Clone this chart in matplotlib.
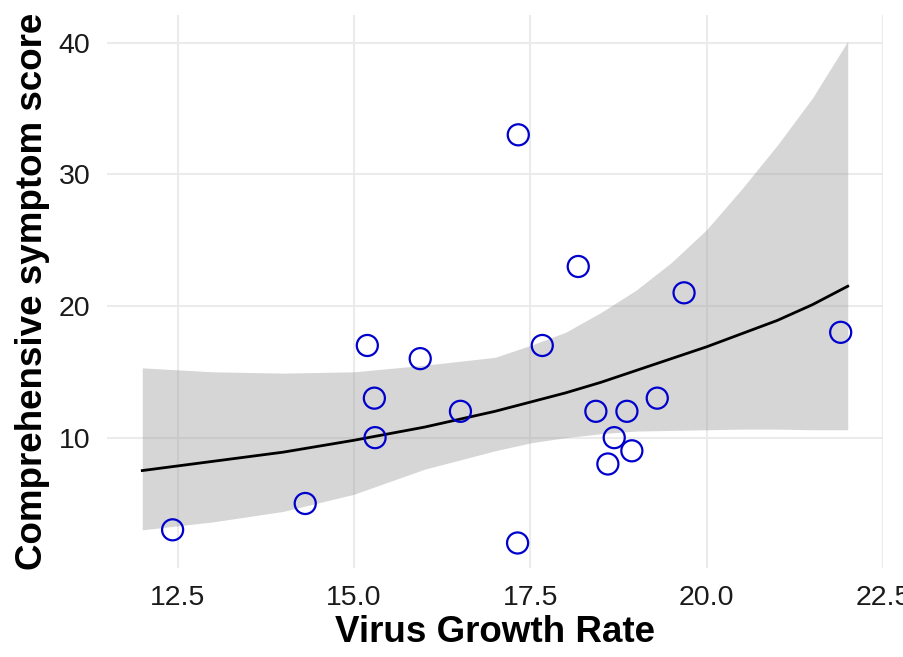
import matplotlib
matplotlib.use("Agg")
import matplotlib.pyplot as plt

# observed points
growth_rate = [12.43, 14.31, 15.19, 15.29, 15.30, 15.94, 16.51, 17.32, 17.33, 17.67,
               18.18, 18.43, 18.87, 18.69, 18.60, 18.94, 19.30, 19.68, 21.90]
symptom_score = [3, 5, 17, 13, 10, 16, 12, 2, 33, 17,
                 23, 12, 12, 10, 8, 9, 13, 21, 18]

# fitted curve and confidence band
fit_x = [12, 13, 14, 15, 16, 17, 17.5, 18, 18.5, 19, 19.5, 20, 20.5, 21, 21.5, 22]
fit_y = [7.5, 8.2, 8.9, 9.8, 10.8, 12.0, 12.7, 13.4, 14.2, 15.1, 16.0, 16.9, 17.9, 18.9, 20.1, 21.5]
fit_upper = [15.3, 15.0, 14.9, 15.0, 15.5, 16.1, 17.0, 18.0, 19.5, 21.2, 23.3, 25.8, 28.9, 32.2, 35.8, 40.1]
fit_lower = [3.0, 3.6, 4.4, 5.7, 7.6, 9.0, 9.6, 10.0, 10.3, 10.5, 10.55, 10.6, 10.65, 10.65, 10.6, 10.6]

x_ticks = [12.5, 15.0, 17.5, 20.0, 22.5]
x_tick_labels = ["12.5", "15.0", "17.5", "20.0", "22.5"]
y_ticks = [10, 20, 30, 40]
y_tick_labels = ["10", "20", "30", "40"]

plt.rcParams['font.family'] = ['Liberation Sans', 'DejaVu Sans']

fig = plt.figure(figsize=(9.04, 6.57), dpi=100)
ax = fig.add_axes([107/904, 1 - 568/657, (883-107)/904, (568-15)/657])

ax.set_xlim(11.5, 22.5)
ax.set_ylim(0.1, 42.1)

ax.set_axisbelow(True)
ax.grid(True, color='#EBEBEB', linewidth=1.5)
for s in ax.spines.values():
    s.set_visible(False)

ax.fill_between(fit_x, fit_lower, fit_upper, color='#999999', alpha=0.4, linewidth=0, zorder=2)
ax.plot(fit_x, fit_y, color='black', linewidth=2.0, zorder=3)
ax.scatter(growth_rate, symptom_score, s=230, facecolors='none', edgecolors='#0000CD',
           linewidths=1.6, zorder=4)

ax.set_xticks(x_ticks)
ax.set_xticklabels(x_tick_labels)
ax.set_yticks(y_ticks)
ax.set_yticklabels(y_tick_labels)
ax.tick_params(axis='both', length=0, labelsize=20.5, colors='#1A1A1A')
ax.tick_params(axis='x', pad=12)
ax.tick_params(axis='y', pad=12)
for lab in ax.get_xticklabels():
    lab.set_clip_on(False)

ax.set_xlabel("Virus Growth Rate", fontsize=26.5, fontweight='bold', labelpad=3)
ax.set_ylabel("Comprehensive symptom score", fontsize=26.5, fontweight='bold', labelpad=6)

fig.savefig("out.png", dpi=100)
